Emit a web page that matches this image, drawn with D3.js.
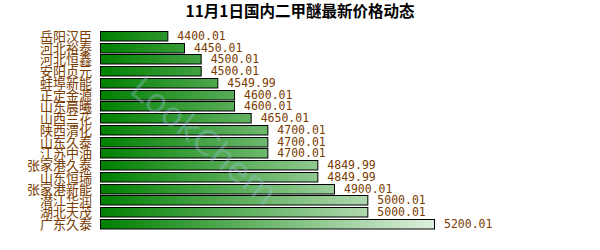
<!DOCTYPE html>
<html>
<head>
<meta charset="utf-8">
<script src="https://cdn.jsdelivr.net/npm/d3@7"></script>
<style>
  body { margin: 0; background: #fff; }
  svg { display: block; }
</style>
</head>
<body>
<div id="chart"></div>
<script>
const title = "11月1日国内二甲醚最新价格动态";
const companies = ["岳阳汉臣", "河北裕泰", "河北恒鑫", "安阳贞元", "蚌埠新能", "正定金源", "山东晨曦", "山西兰花",
  "陕西渭化", "山东久泰", "江苏中油", "张家港久泰", "山东恒瑞", "张家港新能", "潜江华润", "湖北天茂", "广东久泰"];
const prices = [4400.01, 4450.01, 4500.01, 4500.01, 4549.99, 4600.01, 4600.01, 4650.01,
  4700.01, 4700.01, 4700.01, 4849.99, 4849.99, 4900.01, 5000.01, 5000.01, 5200.01];

const width = 600, height = 250;
const left = 100;

const svg = d3.select("#chart").append("svg")
  .attr("width", width)
  .attr("height", height);

// gradient across the whole plot width
const grad = svg.append("defs").append("linearGradient")
  .attr("id", "barGrad")
  .attr("gradientUnits", "userSpaceOnUse")
  .attr("x1", left).attr("x2", 434).attr("y1", 0).attr("y2", 0);
grad.append("stop").attr("offset", "0%").attr("stop-color", "#008000");
grad.append("stop").attr("offset", "100%").attr("stop-color", "#dcefdc");

const x = d3.scaleLinear().domain([4198, 5200.01]).range([0, 334]);
const y = d3.scaleBand().domain(companies).range([30, 30 + 11.75 * companies.length]).paddingInner(0.15).paddingOuter(0.07);

svg.append("text")
  .attr("x", 300).attr("y", 17)
  .attr("text-anchor", "middle")
  .attr("font-family", "Noto Sans CJK SC, sans-serif")
  .attr("font-weight", "bold")
  .attr("font-size", 15.5)
  .attr("fill", "#000")
  .text(title);

const rows = svg.append("g").selectAll("g")
  .data(companies)
  .enter().append("g");

rows.append("rect")
  .attr("x", left + 0.5)
  .attr("y", (d) => Math.round(y(d)) + 0.5)
  .attr("width", (d, i) => x(prices[i]))
  .attr("height", 9.5)
  .attr("fill", "url(#barGrad)")
  .attr("stroke", "#000")
  .attr("stroke-width", 1);

rows.append("text")
  .attr("x", 92)
  .attr("y", (d) => Math.round(y(d)) + 10)
  .attr("text-anchor", "end")
  .attr("font-family", "Noto Sans CJK SC, sans-serif")
  .attr("font-size", 13)
  .attr("fill", "#7a3c00")
  .text((d) => d);

rows.append("text")
  .attr("x", (d, i) => left + x(prices[i]) + 10)
  .attr("y", (d) => Math.round(y(d)) + 9)
  .attr("font-family", "DejaVu Sans Mono, monospace")
  .attr("font-size", 11.5)
  .attr("fill", "#7a3c00")
  .text((d, i) => prices[i].toFixed(2));

// watermark on top, faint
svg.append("text")
  .attr("transform", "translate(128,92) rotate(40)")
  .attr("font-family", "DejaVu Sans, sans-serif")
  .attr("font-size", 34)
  .attr("fill", "#9cc4dc")
  .attr("fill-opacity", 0.35)
  .attr("pointer-events", "none")
  .text("LookChem");
</script>
</body>
</html>
